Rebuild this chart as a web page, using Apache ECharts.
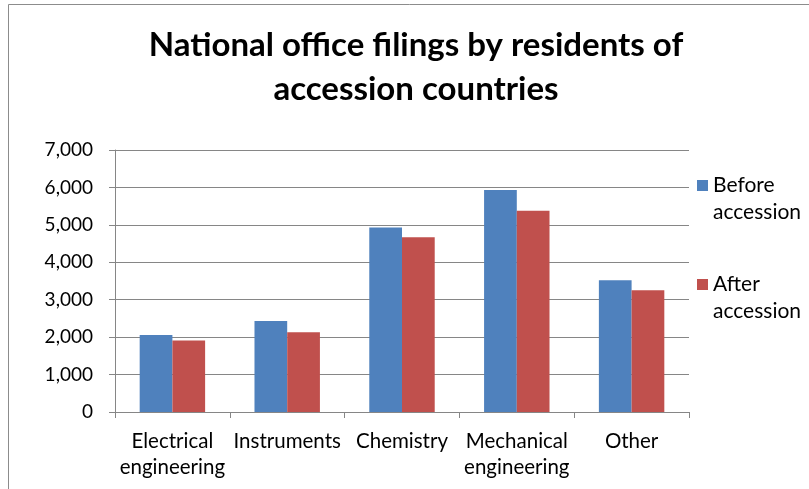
<!DOCTYPE html>
<html><head><meta charset="utf-8">
<script src="https://cdn.jsdelivr.net/npm/echarts@6/dist/echarts.min.js"></script>
<style>html,body{margin:0;padding:0;background:#fff}#c{width:809px;height:489px}</style>
</head><body><div id="c"></div>
<script>
const categories = ['Electrical\nengineering', 'Instruments', 'Chemistry', 'Mechanical\nengineering', 'Other'];
const beforeAccession = [2060, 2430, 4930, 5930, 3520];
const afterAccession = [1910, 2130, 4670, 5380, 3250];
const seriesNames = ['Before\naccession', 'After\naccession'];

const FONT = 'Lato, "Open Sans", sans-serif';
const chart = echarts.init(document.getElementById('c'), null, {renderer: 'canvas'});
chart.setOption({
  animation: false,
  backgroundColor: '#fff',
  graphic: [{
    type: 'rect', shape: {x: 8.5, y: 4.5, width: 900, height: 600},
    style: {fill: 'none', stroke: '#8c8c8c', lineWidth: 1}, silent: true, z: -1
  }],
  title: {
    text: 'National office filings by residents of\naccession countries',
    left: 416, top: 23, textAlign: 'center', padding: 0,
    textStyle: {fontFamily: FONT, fontWeight: 'bold', fontSize: 33, lineHeight: 44, color: '#000'}
  },
  legend: {
    orient: 'vertical', left: 697, top: 145, padding: 0,
    itemWidth: 11, itemHeight: 11, itemGap: 18,
    icon: 'rect',
    formatter: name => '\n' + name,
    textStyle: {fontFamily: FONT, fontSize: 21, lineHeight: 27, color: '#000'},
    data: seriesNames
  },
  grid: {left: 115, right: 120, top: 150, bottom: 77, containLabel: false},
  xAxis: {
    type: 'category', data: categories,
    axisLine: {lineStyle: {color: '#868686', width: 1}},
    axisTick: {show: true, length: 6, lineStyle: {color: '#868686'}},
    axisLabel: {fontFamily: FONT, fontSize: 20.5, lineHeight: 26, color: '#000', margin: 16, interval: 0}
  },
  yAxis: {
    type: 'value', min: 0, max: 7000, interval: 1000,
    axisLine: {show: true, lineStyle: {color: '#868686', width: 1}},
    axisTick: {show: true, length: 6, lineStyle: {color: '#868686'}},
    splitLine: {lineStyle: {color: '#868686', width: 1}},
    axisLabel: {fontFamily: FONT, fontSize: 19, color: '#000', margin: 22,
      formatter: v => v.toLocaleString('en-US')}
  },
  series: [
    {name: seriesNames[0], type: 'bar', data: beforeAccession, barGap: '0%', barCategoryGap: '43%',
     itemStyle: {color: '#4F81BD'}},
    {name: seriesNames[1], type: 'bar', data: afterAccession, barGap: '0%', barCategoryGap: '43%',
     itemStyle: {color: '#C0504D'}}
  ]
});
</script></body></html>
